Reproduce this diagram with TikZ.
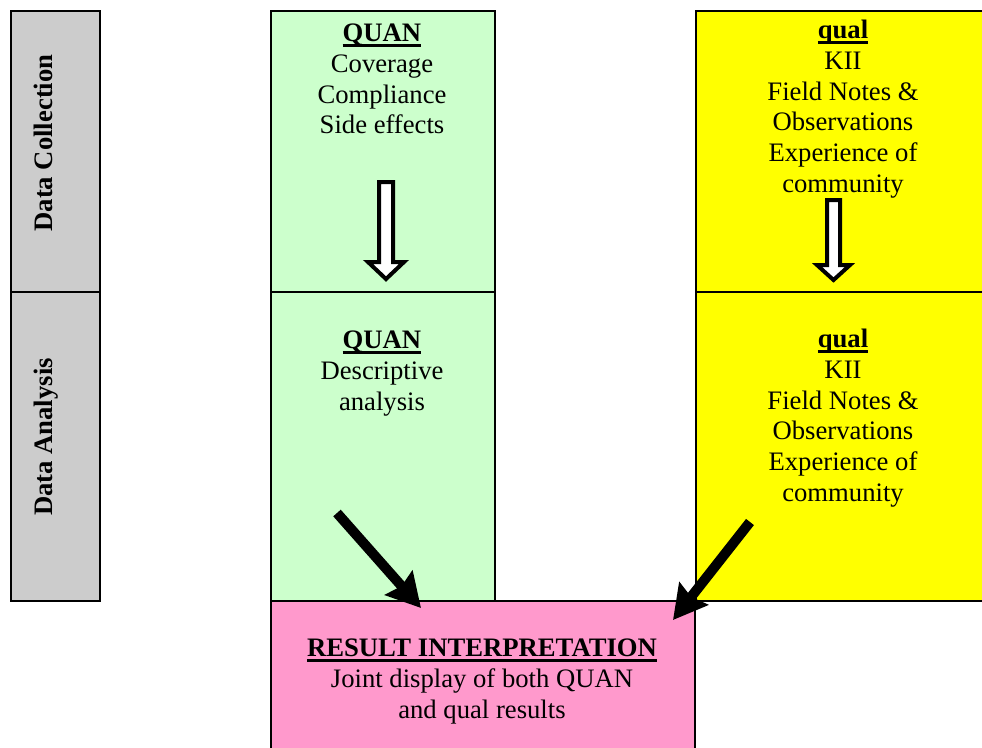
\documentclass[tikz,border=0pt]{standalone}
\usepackage{fontspec}
\setmainfont{Liberation Serif}
\newcommand{\thickul}[1]{\setbox0=\hbox{#1}\dimen0=\wd0 \box0\hspace{-\dimen0}\rule[-3.6pt]{\dimen0}{2pt}}
\usetikzlibrary{arrows.meta}
\definecolor{quanfill}{HTML}{CCFFCC}
\definecolor{qualfill}{HTML}{FFFF00}
\definecolor{resfill}{HTML}{FF99CC}
\definecolor{sidefill}{HTML}{CCCCCC}
\begin{document}
\begin{tikzpicture}[x=0.75pt,y=-0.75pt,
  box/.style={draw=black, line width=1.5pt, anchor=north west, inner sep=0pt},
  colbox/.style={box, minimum width=168pt},
  txt/.style={align=center, font=\fontsize{20}{23}\selectfont, inner sep=0pt, anchor=north},
  sidetxt/.style={rotate=90, font=\fontsize{20}{23}\selectfont\bfseries, inner sep=0pt, anchor=base},
  hollow/.style={draw=black, fill=white, line width=3pt},
  bigarrow/.style={draw=black, line width=7.5pt, -{Stealth[length=25pt,width=27pt,inset=3pt]}}
]
\useasboundingbox (0,0) rectangle (982,747);
\clip (0,0) rectangle (982,747);
% side boxes
\node[box, fill=sidefill, minimum width=66.75pt, minimum height=210.75pt] (dc) at (10,10) {};
\node[box, fill=sidefill, minimum width=66.75pt, minimum height=231.75pt] (da) at (10,291) {};
\node[sidetxt] (dctxt) at (52,143) {Data Collection};
\node[sidetxt] (datxt) at (52,437) {Data Analysis};
% QUAN column
\node[colbox, fill=quanfill, minimum height=210.75pt] (qc) at (270,10) {};
\node[colbox, fill=quanfill, minimum height=231.75pt] (qa) at (270,291) {};
% qual column
\node[box, fill=qualfill, minimum width=222pt, minimum height=210.75pt] (lc) at (695,10) {};
\node[box, fill=qualfill, minimum width=222pt, minimum height=231.75pt] (la) at (695,291) {};
% result
\node[box, fill=resfill, minimum width=318pt, minimum height=150pt] (ri) at (270,600) {};
% texts
\node[txt] (qctxt) at (382,24) {\textbf{\thickul{QUAN}}\\Coverage\\Compliance\\Side effects};
\node[txt] (qatxt) at (382,331) {\textbf{\thickul{QUAN}}\\Descriptive\\analysis};
\node[txt] (lctxt) at (843,20) {\textbf{\thickul{qual}}\\KII\\Field Notes \&\\Observations\\Experience of\\community};
\node[txt] (latxt) at (843,329) {\textbf{\thickul{qual}}\\KII\\Field Notes \&\\Observations\\Experience of\\community};
\node[txt] (ritxt) at (482,639) {\textbf{\thickul{RESULT INTERPRETATION}}\\Joint display of both QUAN\\and qual results};
% hollow arrows
\draw[hollow] (379,182) -- (393,182) -- (393,262) -- (404,262) -- (386,279) -- (368,262) -- (379,262) -- cycle;
\draw[hollow] (827,200) -- (840,200) -- (840,265) -- (850,265) -- (833.5,280) -- (817,265) -- (827,265) -- cycle;
% diagonal arrows
\coordinate (s1) at (337,513);
\coordinate (e1) at (421,608);
\coordinate (s2) at (750,522);
\coordinate (e2) at (673,620);
\draw[bigarrow] (s1) -- (e1);
\draw[bigarrow] (s2) -- (e2);
\end{tikzpicture}
\end{document}
